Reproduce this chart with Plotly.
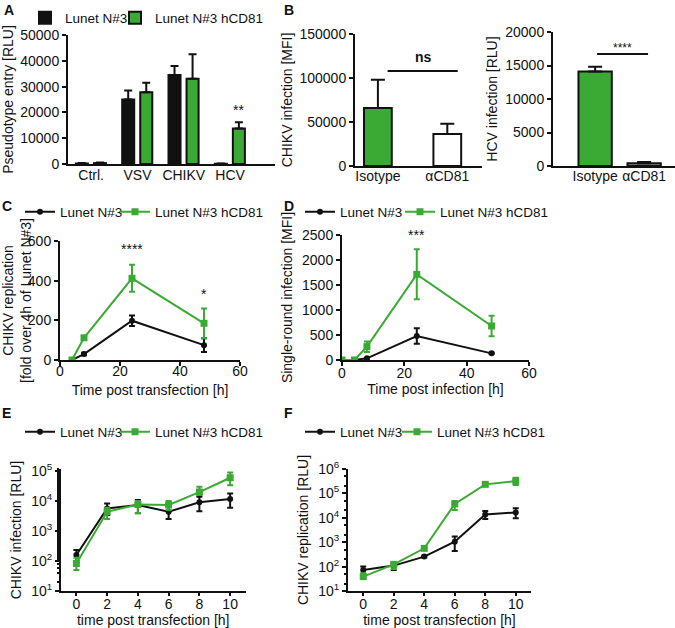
import plotly.graph_objects as go

W, H = 675, 628
BLACK = "#111111"
GREEN = "#3BAA34"
FONT = "Liberation Sans, Arial, sans-serif"

# ---------------- data ----------------
# Panel A
a_cats = ["Ctrl.", "VSV", "CHIKV", "HCV"]
a_n3 = [200, 25000, 34500, 100]
a_n3_err = [150, 3500, 3500, 100]
a_cd81 = [350, 27800, 33000, 13800]
a_cd81_err = [200, 3700, 9500, 2400]

# Panel B
b_cats = ["Isotype", "αCD81"]
b_chikv = [66000, 36500]
b_chikv_err = [32000, 11500]
b_hcv = [14100, 420]
b_hcv_err = [700, 180]

# Panel C
c_t = [4, 8, 24, 48]
c_n3 = [0, 30, 198, 75]
c_n3_err = [3, 6, 27, 35]
c_cd81 = [0, 112, 412, 185]
c_cd81_err = [3, 8, 68, 75]

# Panel D
d_t = [0, 4, 8, 24, 48]
d_n3 = [0, 0, 33, 480, 133]
d_n3_err = [5, 5, 8, 155, 10]
d_cd81 = [0, 0, 267, 1713, 680]
d_cd81_err = [5, 5, 105, 500, 205]

# Panel E
e_t = [0, 2, 4, 6, 8, 10]
e_n3 = [158, 5700, 7400, 4400, 9100, 11700]
e_n3_hi = [232, 8300, 10800, 7400, 14000, 18000]
e_n3_lo = [95, 3400, 3900, 2500, 4600, 6000]
e_cd81 = [83, 4400, 7700, 7400, 20000, 60000]
e_cd81_hi = [129, 6000, 10000, 10000, 30000, 90000]
e_cd81_lo = [50, 2500, 4000, 5000, 16000, 34000]

# Panel F
f_t = [0, 2, 4, 6, 8, 10]
f_n3 = [72, 110, 257, 1050, 13800, 16600]
f_n3_hi = [100, 135, 280, 1700, 19000, 24400]
f_n3_lo = [46, 72, 235, 440, 9000, 9500]
f_cd81 = [39, 124, 560, 37000, 235000, 320000]
f_cd81_hi = [53, 149, 660, 49000, 257000, 440000]
f_cd81_lo = [32, 80, 480, 21000, 209000, 220000]

log_vals = [10, 100, 1000, 10000, 100000, 1000000]
log_text = ["10<sup>1</sup>", "10<sup>2</sup>", "10<sup>3</sup>", "10<sup>4</sup>",
            "10<sup>5</sup>", "10<sup>6</sup>"]

name1 = "Lunet N#3"
name2 = "Lunet N#3 hCD81"

# ---------------- helpers ----------------
def px_x(a, b):
    return [a / W, b / W]

def px_y(bottom, top):
    return [1 - bottom / H, 1 - top / H]

fig = go.Figure()

def axis_style(**kw):
    d = dict(showline=True, linecolor=BLACK, linewidth=2, showgrid=False, zeroline=False,
             ticks="outside", ticklen=4, tickwidth=1.5, tickcolor=BLACK,
             tickfont=dict(size=14, color=BLACK, family=FONT),
             title_font=dict(size=14, color=BLACK, family=FONT))
    d.update(kw)
    return d

# ---------------- Panel A ----------------
fig.add_trace(go.Bar(x=list(range(4)), y=a_n3, name=name1, legend="legend11",
                     marker=dict(color=BLACK, line=dict(color=BLACK, width=2)),
                     width=0.26, offset=-0.33,
                     error_y=dict(type="data", array=a_n3_err, arrayminus=[0]*4, symmetric=False,
                                  color=BLACK, thickness=2, width=4),
                     xaxis="x", yaxis="y"))
fig.add_trace(go.Bar(x=list(range(4)), y=a_cd81, name=name2, legend="legend2",
                     marker=dict(color=GREEN, line=dict(color=BLACK, width=2)),
                     width=0.26, offset=0.06,
                     error_y=dict(type="data", array=a_cd81_err, arrayminus=[0]*4, symmetric=False,
                                  color=BLACK, thickness=2, width=4),
                     xaxis="x", yaxis="y"))

# ---------------- Panel B ----------------
fig.add_trace(go.Bar(x=[0, 1], y=b_chikv, showlegend=False,
                     marker=dict(color=[GREEN, "white"], line=dict(color=BLACK, width=2)),
                     width=0.4,
                     error_y=dict(type="data", array=b_chikv_err, arrayminus=[0, 0], symmetric=False,
                                  color=BLACK, thickness=2, width=7),
                     xaxis="x2", yaxis="y2"))
fig.add_trace(go.Bar(x=[0, 1], y=b_hcv, showlegend=False,
                     marker=dict(color=[GREEN, "#8c8c8c"], line=dict(color=BLACK, width=2)),
                     width=0.68,
                     error_y=dict(type="data", array=b_hcv_err, arrayminus=[0, 0], symmetric=False,
                                  color=BLACK, thickness=2, width=7),
                     xaxis="x3", yaxis="y3"))

# ---------------- line panels ----------------
def add_lines(t, y1, e1, y2, e2, xa, ya, leg1, leg2, lo1=None, lo2=None):
    def err(hi, lo, y, color):
        if lo is None:
            return dict(type="data", array=hi, color=color, thickness=2, width=3)
        return dict(type="data", symmetric=False,
                    array=[h - v for h, v in zip(hi, y)],
                    arrayminus=[v - l for v, l in zip(y, lo)],
                    color=color, thickness=2, width=3)
    fig.add_trace(go.Scatter(x=t, y=y1, name=name1, legend=leg1, mode="lines+markers",
                             line=dict(color=BLACK, width=2),
                             marker=dict(color=BLACK, size=6, symbol="circle"),
                             error_y=err(e1, lo1, y1, BLACK), xaxis=xa, yaxis=ya))
    fig.add_trace(go.Scatter(x=t, y=y2, name=name2, legend=leg2, mode="lines+markers",
                             line=dict(color=GREEN, width=2),
                             marker=dict(color=GREEN, size=7, symbol="square"),
                             error_y=err(e2, lo2, y2, GREEN), xaxis=xa, yaxis=ya))

add_lines(c_t, c_n3, c_n3_err, c_cd81, c_cd81_err, "x4", "y4", "legend3", "legend4")
add_lines(d_t, d_n3, d_n3_err, d_cd81, d_cd81_err, "x5", "y5", "legend5", "legend6")
add_lines(e_t, e_n3, e_n3_hi, e_cd81, e_cd81_hi, "x6", "y6", "legend7", "legend8", e_n3_lo, e_cd81_lo)
add_lines(f_t, f_n3, f_n3_hi, f_cd81, f_cd81_hi, "x7", "y7", "legend9", "legend10", f_n3_lo, f_cd81_lo)

# ---------------- axes ----------------
lay = {}
lay["xaxis"] = axis_style(domain=px_x(68, 275), range=[-0.5, 3.97], tickvals=list(range(4)),
                          ticktext=a_cats, ticks="", anchor="y", ticklabelstandoff=-3)
lay["yaxis"] = axis_style(domain=px_y(164, 35), range=[0, 50000], dtick=10000, anchor="x",
                          tickformat="d", title=dict(text="Pseudotype entry [RLU]", standoff=4))
lay["xaxis2"] = axis_style(domain=px_x(355, 482), range=[-0.33, 1.5], tickvals=[0, 1],
                           ticktext=b_cats, ticks="", anchor="y2", ticklabelstandoff=-4)
lay["yaxis2"] = axis_style(domain=px_y(166, 34), range=[0, 150000], dtick=50000, anchor="x2",
                           tickformat="d", title=dict(text="CHIKV infection [MFI]", standoff=4))
lay["xaxis3"] = axis_style(domain=px_x(553, 675), range=[-0.86, 1.63], tickvals=[0, 1],
                           ticktext=b_cats, ticks="", anchor="y3", ticklabelstandoff=-4)
lay["yaxis3"] = axis_style(domain=px_y(166, 32), range=[0, 20000], dtick=5000, anchor="x3",
                           tickformat="d", title=dict(text="HCV infection [RLU]", standoff=4))
lay["xaxis4"] = axis_style(domain=px_x(60, 240), range=[0, 60], dtick=20, anchor="y4",
                           ticklabelstandoff=-7,
                           title=dict(text="Time post transfection [h]", standoff=7))
lay["yaxis4"] = axis_style(domain=px_y(360, 241), range=[0, 600], dtick=200, anchor="x4",
                           title=dict(text="CHIKV replication<br>[fold over 4h of Lunet N#3]", standoff=1))
lay["xaxis5"] = axis_style(domain=px_x(342, 529), range=[0, 60], dtick=20, anchor="y5",
                           ticklabelstandoff=-5,
                           title=dict(text="Time post infection [h]", standoff=1))
lay["yaxis5"] = axis_style(domain=px_y(360, 235), range=[0, 2500], dtick=500, anchor="x5",
                           title=dict(text="Single-round infection [MFI]", standoff=6))
lay["xaxis6"] = axis_style(domain=px_x(61, 245.5), range=[-1, 11], dtick=2, anchor="y6",
                           ticklen=3, ticklabelstandoff=-4,
                           title=dict(text="time post transfection [h]", standoff=2))
lay["yaxis6"] = axis_style(domain=px_y(591, 469), type="log", range=[1, 5.07], anchor="x6",
                           tickvals=log_vals[:5], ticktext=log_text[:5],
                           minor=dict(ticks="outside", ticklen=2, tickcolor=BLACK),
                           title=dict(text="CHIKV infection [RLU]", standoff=6))
lay["xaxis7"] = axis_style(domain=px_x(348, 531), range=[-1, 11], dtick=2, anchor="y7",
                           ticklen=3, ticklabelstandoff=-4,
                           title=dict(text="time post transfection [h]", standoff=2))
lay["yaxis7"] = axis_style(domain=px_y(591, 469), type="log", range=[1, 6], anchor="x7",
                           tickvals=log_vals, ticktext=log_text,
                           minor=dict(ticks="outside", ticklen=2, tickcolor=BLACK),
                           title=dict(text="CHIKV replication [RLU]", standoff=6))

def legend_at(text_x, ypx):
    # the legend text begins 40 px after the legend box start
    return dict(orientation="h", x=(text_x - 40) / W, y=1 - ypx / H, xanchor="left",
                yanchor="middle", font=dict(size=13.5, color=BLACK, family=FONT),
                bgcolor="rgba(0,0,0,0)", itemwidth=30)

# the first A legend is anchored by its right end (end of its text)
lay["legend11"] = dict(orientation="h", x=133 / W, y=1 - 18 / H, xanchor="right",
                       yanchor="middle", font=dict(size=13.5, color=BLACK, family=FONT),
                       bgcolor="rgba(0,0,0,0)", itemwidth=30)
lay["legend2"] = legend_at(155, 18)
lay["legend3"] = legend_at(60, 212)
lay["legend4"] = legend_at(155, 212)
lay["legend5"] = legend_at(340, 212)
lay["legend6"] = legend_at(440, 212)
lay["legend7"] = legend_at(60, 432)
lay["legend8"] = legend_at(155, 432)
lay["legend9"] = legend_at(340, 432)
lay["legend10"] = legend_at(437, 432)

# ---------------- annotations ----------------
ann = []
def letter(t, xpx, ypx):
    ann.append(dict(text="<b>%s</b>" % t, x=xpx / W, y=1 - ypx / H, xref="paper", yref="paper",
                    xanchor="left", yanchor="top", showarrow=False,
                    font=dict(size=14, color=BLACK, family=FONT)))
letter("A", 2, 0); letter("B", 282, 0); letter("C", 0, 196)
letter("D", 282, 196); letter("E", 0, 403); letter("F", 282, 403)

def star(t, x, y, xr, yr, shift=2, bold=False, size=14):
    ann.append(dict(text=("<b>%s</b>" % t) if bold else t, x=x, y=y, xref=xr, yref=yr,
                    xanchor="center", yanchor="bottom", yshift=shift, showarrow=False,
                    font=dict(size=size, color=BLACK, family=FONT)))

star("**", 3.19, a_cd81[3] + a_cd81_err[3], "x", "y", shift=2)
star("ns", 0.65, 112000, "x2", "y2", shift=0, bold=True)
star("****", 0.56, 16500, "x3", "y3", shift=-2, size=12)
star("****", 24, c_cd81[2] + c_cd81_err[2], "x4", "y4", shift=6)
star("*", 48, c_cd81[3] + c_cd81_err[3], "x4", "y4", shift=4)
star("***", 24, d_cd81[3] + d_cd81_err[3], "x5", "y5", shift=4)
star("**", 10, e_cd81_hi[5], "x6", "y6", shift=2)
star("****", 8, f_cd81_hi[4], "x7", "y7", shift=6)
star("****", 10, f_cd81_hi[5], "x7", "y7", shift=2)

shapes = [
    dict(type="line", xref="x2", yref="y2", x0=0.14, x1=1.15, y0=108000, y1=108000,
         line=dict(color=BLACK, width=2)),
    dict(type="line", xref="x3", yref="y3", x0=0.04, x1=1.08, y0=16700, y1=16700,
         line=dict(color=BLACK, width=2)),
]

fig.update_layout(**lay)
fig.update_layout(width=W, height=H, margin=dict(l=0, r=0, t=0, b=0, autoexpand=False),
                  paper_bgcolor="white", plot_bgcolor="white", barmode="overlay",
                  font=dict(family=FONT, size=14, color=BLACK),
                  annotations=ann, shapes=shapes)

fig.write_html("out.html", config={"displayModeBar": False},
               post_script="document.body.style.margin='0';")
